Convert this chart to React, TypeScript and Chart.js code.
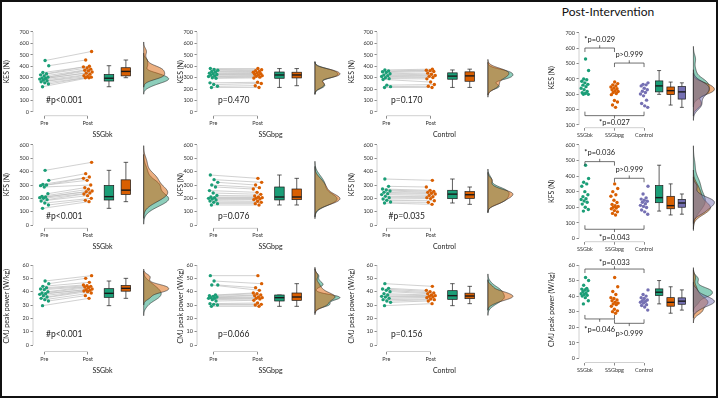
import React, { useEffect, useRef } from "react";
import { Chart, registerables } from "chart.js";

Chart.register(...registerables);

const FONT = "Lato, 'DejaVu Sans', sans-serif";

// ---------------- data ----------------
const groupNames = ["SSGbk", "SSGbpg", "Control"];
const timeLabels = ["Pre", "Post"];

const kesTicks = [0, 100, 200, 300, 400, 500, 600, 700];
const kesPostTicks = [100, 200, 300, 400, 500, 600, 700];
const kfsTicks = [0, 100, 200, 300, 400, 500, 600];
const cmjTicks = [0, 10, 20, 30, 40, 50, 60];

// KES (N)
const kesPreBk = [221, 245, 255, 265, 273, 280, 288, 293, 298, 305, 315, 325, 335, 345, 405, 450];
const kesPostBk = [300, 300, 305, 310, 318, 330, 340, 350, 360, 365, 375, 385, 395, 400, 455, 530];
const kesPreBpg = [215, 225, 240, 255, 295, 300, 310, 315, 324, 328, 335, 340, 350, 355, 365, 372, 380];
const kesPostBpg = [215, 230, 250, 260, 298, 305, 312, 318, 324, 330, 336, 342, 348, 355, 362, 370, 380];
const kesPreCtl = [215, 222, 235, 285, 292, 300, 310, 318, 325, 335, 345, 352, 360, 368];
const kesPostCtl = [215, 225, 240, 262, 290, 302, 312, 320, 330, 340, 355, 362, 365, 375];

// KFS (N)
const kfsPreBk = [125, 150, 165, 180, 190, 200, 205, 210, 215, 235, 285, 295, 300, 305, 335, 410];
const kfsPostBk = [175, 185, 200, 220, 232, 240, 250, 255, 268, 280, 300, 335, 350, 360, 385, 470];
const kfsPreBpg = [150, 160, 170, 180, 188, 195, 200, 205, 210, 222, 240, 258, 285, 300, 320, 340, 375];
const kfsPostBpg = [150, 160, 170, 178, 190, 195, 200, 205, 210, 218, 230, 245, 270, 280, 300, 320, 350];
const kfsPreCtl = [165, 172, 185, 195, 205, 215, 228, 235, 245, 255, 262, 270, 290, 345];
const kfsPostCtl = [155, 170, 182, 198, 205, 212, 222, 232, 238, 245, 252, 260, 285, 335];

// CMJ peak power (W/kg)
const cmjPreBk = [29.5, 33, 34, 35, 36, 37, 38, 38.5, 39, 40, 41.5, 42, 43, 44, 46, 48];
const cmjPostBk = [35, 37, 39, 40, 40.5, 41, 41.5, 42, 43, 43.5, 44, 44.5, 45, 47, 50, 52];
const cmjPreBpg = [29, 30, 30.5, 31, 33, 34, 35, 35, 35.5, 36, 36.5, 37, 37.5, 45, 45, 48, 52];
const cmjPostBpg = [29, 30, 30.5, 31.5, 33.5, 34.5, 35, 35.5, 36, 37, 37.5, 38.5, 39, 41, 43, 46, 52];
const cmjPreCtl = [29.5, 32, 33, 34, 35, 36, 36.5, 37.5, 38.5, 40, 41, 42, 42.5, 46];
const cmjPostCtl = [31, 33, 34, 34.5, 35.5, 36, 36.5, 37, 37.5, 38.5, 39, 40, 41, 44];

const kesWithinP = ["#p<0.001", "p=0.470", "p=0.170"];
const kfsWithinP = ["#p<0.001", "p=0.076", "#p=0.035"];
const cmjWithinP = ["#p<0.001", "p=0.066", "p=0.156"];

type Bracket = { from: number; to: number; y: number; textY: number; label: string; open: "down" | "up" };

const kesBetween: Bracket[] = [
  { from: 1, to: 2, y: 602, textY: 660, label: "*p=0.029", open: "down" },
  { from: 2, to: 3, y: 504, textY: 562, label: "p>0.999", open: "down" },
  { from: 1, to: 3, y: 161, textY: 113, label: "*p=0.027", open: "up" },
];
const kfsBetween: Bracket[] = [
  { from: 1, to: 2, y: 493, textY: 550, label: "*p=0.036", open: "down" },
  { from: 2, to: 3, y: 386, textY: 439, label: "p>0.999", open: "down" },
  { from: 1, to: 3, y: 58, textY: 6, label: "*p=0.043", open: "up" },
];
const cmjBetween: Bracket[] = [
  { from: 1, to: 3, y: 57.4, textY: 61.7, label: "*p=0.033", open: "down" },
  { from: 1, to: 2, y: 25.3, textY: 18.2, label: "*p=0.046", open: "up" },
  { from: 2, to: 3, y: 22.5, textY: 15.6, label: "p>0.999", open: "up" },
];

// ---------------- styling / layout ----------------
const COLORS = ["#1b9e77", "#d95f02", "#7570b3"];
const FILLS = ["rgba(27,158,119,0.5)", "rgba(217,95,2,0.5)", "rgba(117,112,179,0.5)"];

const COLS = [
  { L: 33, R: 174, x1: 44.5, x2: 88.5, YW: 29.7 },
  { L: 197, R: 346, x1: 213.5, x2: 258.5, YW: 19.7 },
  { L: 377, R: 514, x1: 386.5, x2: 431.5, YW: 29.2 },
  { L: 579, R: 716, x1: 585, x2: 615, YW: 31.2 },
];
const ROWS_PP = [
  { T: 28, B: 115.7, v1: 0, p1: 112, v2: 700, p2: 32 },
  { T: 141, B: 228.3, v1: 0, p1: 225, v2: 600, p2: 145 },
  { T: 261, B: 351.5, v1: 0, p1: 345, v2: 60, p2: 265 },
];
const ROWS_POST = [
  { T: 28, B: 127.7, v1: 100, p1: 125, v2: 700, p2: 33 },
  { T: 141, B: 241.7, v1: 0, p1: 238.3, v2: 600, p2: 145 },
  { T: 257, B: 362.5, v1: 0, p1: 358.3, v2: 60, p2: 265 },
];
const P_TEXT_Y = [105, 62, 8];
const P_TEXT_X = 1.46;

const GEO_PP = { pos: [1, 2], boxes: [2.49, 2.88], dens: 3.29, densW: 25, boxW: 9.5, capW: 4.5, spread: 0.22 };
const GEO_POST = { pos: [1, 2, 3], boxes: [3.51, 3.9, 4.28], dens: 4.67, densW: 21, boxW: 7.5, capW: 4, spread: 0.27 };

type Series = { values: number[]; color: string; fill: string };
type Spec = {
  col: number;
  row: number;
  kind: "prepost" | "post";
  series: Series[];
  xLabels: string[];
  xTitle?: string;
  yTitle: string;
  yTicks: number[];
  pText?: string;
  brackets?: Bracket[];
};

const ROW_DEFS = [
  { yTitle: "KES (N)", ticks: kesTicks, postTicks: kesPostTicks, pre: [kesPreBk, kesPreBpg, kesPreCtl], post: [kesPostBk, kesPostBpg, kesPostCtl], p: kesWithinP, between: kesBetween },
  { yTitle: "KFS (N)", ticks: kfsTicks, postTicks: kfsTicks, pre: [kfsPreBk, kfsPreBpg, kfsPreCtl], post: [kfsPostBk, kfsPostBpg, kfsPostCtl], p: kfsWithinP, between: kfsBetween },
  { yTitle: "CMJ peak power (W/kg)", ticks: cmjTicks, postTicks: cmjTicks, pre: [cmjPreBk, cmjPreBpg, cmjPreCtl], post: [cmjPostBk, cmjPostBpg, cmjPostCtl], p: cmjWithinP, between: cmjBetween },
];

const specs: Spec[] = [];
ROW_DEFS.forEach((rd, row) => {
  for (let g = 0; g < 3; g++) {
    specs.push({
      col: g,
      row,
      kind: "prepost",
      series: [
        { values: rd.pre[g], color: COLORS[0], fill: FILLS[0] },
        { values: rd.post[g], color: COLORS[1], fill: FILLS[1] },
      ],
      xLabels: timeLabels,
      xTitle: groupNames[g],
      yTitle: rd.yTitle,
      yTicks: rd.ticks,
      pText: rd.p[g],
    });
  }
  specs.push({
    col: 3,
    row,
    kind: "post",
    series: rd.post.map((v, g) => ({ values: v, color: COLORS[g], fill: FILLS[g] })),
    xLabels: groupNames,
    yTitle: rd.yTitle,
    yTicks: rd.postTicks,
    brackets: rd.between,
  });
});

// ---------------- helpers ----------------
function quantile(s: number[], p: number) {
  const pos = (s.length - 1) * p;
  const lo = Math.floor(pos);
  const hi = Math.ceil(pos);
  return s[lo] + (s[hi] - s[lo]) * (pos - lo);
}
function boxStats(vals: number[]) {
  const s = [...vals].sort((a, b) => a - b);
  const q1 = quantile(s, 0.25);
  const med = quantile(s, 0.5);
  const q3 = quantile(s, 0.75);
  const iqr = q3 - q1;
  const lo = s.find((v) => v >= q1 - 1.5 * iqr) as number;
  const hi = [...s].reverse().find((v) => v <= q3 + 1.5 * iqr) as number;
  return { q1, med, q3, lo, hi };
}
function kde(vals: number[]) {
  const s = [...vals].sort((a, b) => a - b);
  const n = s.length;
  const mean = s.reduce((a, b) => a + b, 0) / n;
  const sd = Math.sqrt(s.reduce((a, b) => a + (b - mean) ** 2, 0) / (n - 1));
  const iqr = quantile(s, 0.75) - quantile(s, 0.25);
  const spread = Math.min(sd, iqr / 1.34) || sd;
  const bw = 0.9 * spread * Math.pow(n, -0.2);
  const a = s[0] - 3 * bw;
  const b = s[n - 1] + 3 * bw;
  const pts: [number, number][] = [];
  const N = 140;
  for (let k = 0; k <= N; k++) {
    const yv = a + ((b - a) * k) / N;
    let d = 0;
    for (const v of s) {
      const z = (yv - v) / bw;
      d += Math.exp(-0.5 * z * z);
    }
    pts.push([yv, d / (n * bw * Math.sqrt(2 * Math.PI))]);
  }
  return pts;
}
const jit = (i: number) => ((i * 0.6180339887 + 0.31) % 1) - 0.5;

function geometry(col: number, row: number) {
  const c = COLS[col];
  const r = col === 3 ? ROWS_POST[row] : ROWS_PP[row];
  const XH = col === 3 ? 16 : 23;
  const PADT = 6;
  const PADR = 2;
  const cx = Math.round(c.L - c.YW);
  const cy = Math.round(r.T - PADT);
  const yw = c.L - cx;
  const padT = r.T - cy;
  const cw = Math.ceil(c.R + PADR - cx);
  const padR = cw - (c.R - cx);
  const ch = Math.ceil(r.B + XH - cy);
  const padB = ch - (r.B + XH - cy);
  const kx = c.x2 - c.x1;
  const xMin = 1 - (c.x1 - c.L) / kx;
  const xMax = 1 + (c.R - c.x1) / kx;
  const ky = (r.p1 - r.p2) / (r.v2 - r.v1);
  const yMin = r.v1 - (r.B - r.p1) / ky;
  const yMax = r.v2 + (r.p2 - r.T) / ky;
  return { cx, cy, cw, ch, yw, padT, padR, padB, XH, xMin, xMax, yMin, yMax };
}

function Panel({ spec }: { spec: Spec }) {
  const ref = useRef<HTMLCanvasElement | null>(null);
  const geo = geometry(spec.col, spec.row);

  useEffect(() => {
    if (!ref.current) return;
    const G = spec.kind === "prepost" ? GEO_PP : GEO_POST;
    const pts = spec.series.map((s, j) =>
      s.values.map((v, i) => ({ x: G.pos[j] + jit(i + 7 * j) * G.spread, y: v }))
    );
    const datasets: any[] = pts.map((p, j) => ({
      data: p,
      backgroundColor: spec.series[j].color,
      borderWidth: 0,
      pointRadius: 1.7,
      order: 1,
    }));
    if (spec.kind === "prepost") {
      const ld: any[] = [];
      pts[0].forEach((p, i) => {
        ld.push(p, pts[1][i], { x: p.x, y: null });
      });
      datasets.push({
        data: ld,
        showLine: true,
        borderColor: "#bdbdbd",
        borderWidth: 0.7,
        pointRadius: 0,
        spanGaps: false,
        order: 5,
      });
    }

    const rc = {
      id: "raincloud",
      afterDraw(chart: any) {
        const { ctx, chartArea } = chart;
        const x = chart.scales.x;
        const y = chart.scales.y;
        ctx.save();
        // densities
        const dens = spec.series.map((s) => kde(s.values));
        let maxD = 0;
        dens.forEach((d) => d.forEach((p) => (maxD = Math.max(maxD, p[1]))));
        const base = x.getPixelForValue(G.dens);
        dens.forEach((d, j) => {
          ctx.beginPath();
          ctx.moveTo(base, y.getPixelForValue(d[0][0]));
          d.forEach(([v, dv]) => ctx.lineTo(base + (G.densW * dv) / maxD, y.getPixelForValue(v)));
          ctx.lineTo(base, y.getPixelForValue(d[d.length - 1][0]));
          ctx.closePath();
          ctx.fillStyle = spec.series[j].fill;
          ctx.fill();
          ctx.strokeStyle = "#2a2a2a";
          ctx.lineWidth = 0.6;
          ctx.stroke();
        });
        // boxes
        spec.series.forEach((s, j) => {
          const st = boxStats(s.values);
          const cxp = x.getPixelForValue(G.boxes[j]);
          const yq1 = y.getPixelForValue(st.q1);
          const yq3 = y.getPixelForValue(st.q3);
          const ym = y.getPixelForValue(st.med);
          const ylo = y.getPixelForValue(st.lo);
          const yhi = y.getPixelForValue(st.hi);
          ctx.strokeStyle = "#1a1a1a";
          ctx.lineWidth = 0.7;
          ctx.beginPath();
          ctx.moveTo(cxp, yhi);
          ctx.lineTo(cxp, yq3);
          ctx.moveTo(cxp, yq1);
          ctx.lineTo(cxp, ylo);
          ctx.moveTo(cxp - G.capW / 2, yhi);
          ctx.lineTo(cxp + G.capW / 2, yhi);
          ctx.moveTo(cxp - G.capW / 2, ylo);
          ctx.lineTo(cxp + G.capW / 2, ylo);
          ctx.stroke();
          ctx.fillStyle = s.color;
          ctx.fillRect(cxp - G.boxW / 2, yq3, G.boxW, yq1 - yq3);
          ctx.strokeRect(cxp - G.boxW / 2, yq3, G.boxW, yq1 - yq3);
          ctx.lineWidth = 1.4;
          ctx.beginPath();
          ctx.moveTo(cxp - G.boxW / 2, ym);
          ctx.lineTo(cxp + G.boxW / 2, ym);
          ctx.stroke();
        });
        // capped axis lines
        ctx.strokeStyle = "#c4c4c4";
        ctx.lineWidth = 0.8;
        ctx.beginPath();
        ctx.moveTo(chartArea.left, y.getPixelForValue(spec.yTicks[0]));
        ctx.lineTo(chartArea.left, y.getPixelForValue(spec.yTicks[spec.yTicks.length - 1]));
        ctx.moveTo(x.getPixelForValue(1), chartArea.bottom);
        ctx.lineTo(x.getPixelForValue(spec.xLabels.length), chartArea.bottom);
        ctx.stroke();
        // texts
        ctx.fillStyle = "#222";
        ctx.textAlign = "center";
        ctx.textBaseline = "middle";
        if (spec.pText) {
          ctx.font = `8.5px ${FONT}`;
          ctx.fillText(spec.pText, x.getPixelForValue(P_TEXT_X), y.getPixelForValue(P_TEXT_Y[spec.row]));
        }
        if (spec.brackets) {
          ctx.strokeStyle = "#333";
          ctx.lineWidth = 0.7;
          ctx.font = `7.5px ${FONT}`;
          spec.brackets.forEach((b) => {
            const x1 = x.getPixelForValue(b.from);
            const x2 = x.getPixelForValue(b.to);
            const py = y.getPixelForValue(b.y);
            const leg = b.open === "down" ? 4 : -4;
            const mid = (x1 + x2) / 2;
            ctx.beginPath();
            ctx.moveTo(x1, py + leg);
            ctx.lineTo(x1, py);
            ctx.lineTo(x2, py);
            ctx.lineTo(x2, py + leg);
            ctx.moveTo(mid, py);
            ctx.lineTo(mid, py - leg * 0.7);
            ctx.stroke();
            ctx.fillText(b.label, mid, y.getPixelForValue(b.textY));
          });
        }
        ctx.restore();
      },
    };

    const chart = new Chart(ref.current, {
      type: "scatter",
      data: { datasets },
      options: {
        animation: false,
        responsive: false,
        devicePixelRatio: 1,
        events: [],
        layout: { padding: { left: 0, top: geo.padT, right: geo.padR, bottom: geo.padB } },
        plugins: { legend: { display: false }, tooltip: { enabled: false } },
        scales: {
          x: {
            type: "linear",
            min: geo.xMin,
            max: geo.xMax,
            afterBuildTicks: (s: any) => {
              s.ticks = spec.xLabels.map((_, i) => ({ value: i + 1 }));
            },
            afterFit: (s: any) => {
              s.height = geo.XH;
            },
            ticks: {
              autoSkip: false,
              maxRotation: 0,
              minRotation: 0,
              padding: 1,
              color: "#333",
              font: { family: FONT, size: 5.5 },
              callback: (_v: any, i: number) => spec.xLabels[i],
            },
            grid: { drawOnChartArea: false, drawTicks: true, tickLength: 3, color: "#8a8a8a" },
            border: { display: false },
            title: {
              display: !!spec.xTitle,
              text: spec.xTitle || "",
              padding: 0,
              color: "#222",
              font: { family: FONT, size: 7 },
            },
          },
          y: {
            type: "linear",
            min: geo.yMin,
            max: geo.yMax,
            afterBuildTicks: (s: any) => {
              s.ticks = spec.yTicks.map((v) => ({ value: v }));
            },
            afterFit: (s: any) => {
              s.width = geo.yw;
            },
            ticks: {
              padding: 1.5,
              color: "#333",
              font: { family: FONT, size: 5.5 },
              callback: (v: any) => String(v),
            },
            grid: { drawOnChartArea: false, drawTicks: true, tickLength: 2.5, color: "#8a8a8a" },
            border: { display: false },
            title: {
              display: true,
              text: spec.yTitle,
              padding: 0,
              color: "#222",
              font: { family: FONT, size: 7 },
            },
          },
        },
      } as any,
      plugins: [rc],
    });
    return () => chart.destroy();
  }, []);

  return (
    <canvas
      ref={ref}
      width={geo.cw}
      height={geo.ch}
      style={{ position: "absolute", left: geo.cx, top: geo.cy, width: geo.cw, height: geo.ch }}
    />
  );
}

export default function App() {
  return (
    <div
      style={{
        position: "fixed",
        left: 0,
        top: 0,
        width: 719,
        height: 398,
        background: "#fff",
        overflow: "hidden",
        fontFamily: FONT,
      }}
    >
      {specs.map((s, i) => (
        <Panel key={i} spec={s} />
      ))}
      <div
        style={{
          position: "absolute",
          left: 538,
          top: 4,
          width: 140,
          textAlign: "center",
          fontSize: 12,
          lineHeight: "16px",
          color: "#111",
        }}
      >
        Post-Intervention
      </div>
      <div
        style={{
          position: "absolute",
          left: 0,
          top: 0,
          width: 718,
          height: 398,
          boxSizing: "border-box",
          border: "2px solid #111",
          pointerEvents: "none",
        }}
      />
    </div>
  );
}
